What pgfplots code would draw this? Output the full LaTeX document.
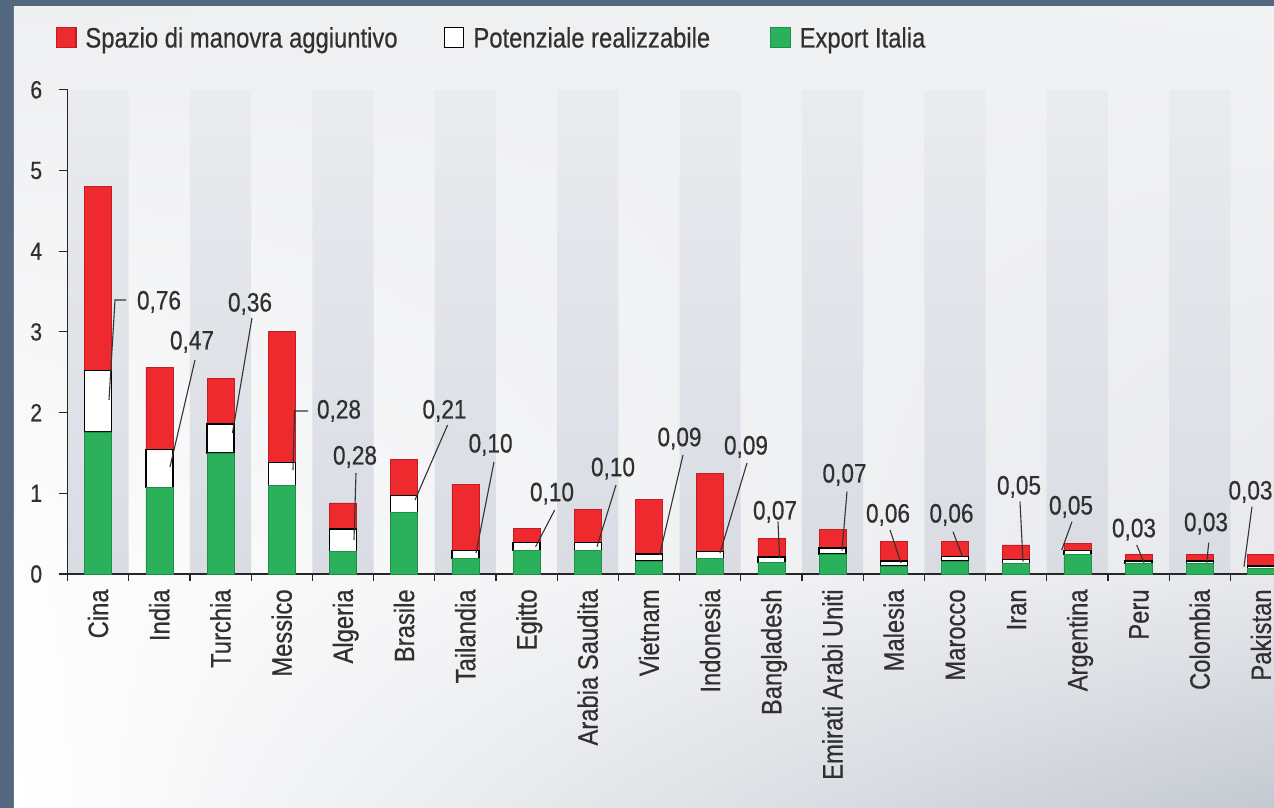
\documentclass[border=0pt]{standalone}
\usepackage{fontspec}
\setmainfont{Liberation Sans}[FakeStretch=0.85, FakeBold=0.5]
\usepackage{pgfplots}
\pgfplotsset{compat=1.18}
\usetikzlibrary{shadings}
\definecolor{frame}{HTML}{53677F}
\definecolor{gr}{HTML}{2BB15C}
\definecolor{grd}{HTML}{1E8E48}
\definecolor{rd}{HTML}{EE2A2E}
\definecolor{rdd}{HTML}{C01E23}
\definecolor{txt}{HTML}{303030}
\definecolor{bandtop}{HTML}{E9EBEF}
\definecolor{bandbot}{HTML}{D9DCE3}
\definecolor{bgul}{RGB}{238,239,241}
\definecolor{bgur}{RGB}{241,242,244}
\definecolor{bgml}{RGB}{253,253,253}
\definecolor{bgmr}{RGB}{232,233,237}
\definecolor{bgll}{RGB}{255,255,255}
\definecolor{bglr}{RGB}{196,201,209}
\begin{document}
\begin{tikzpicture}
\useasboundingbox (-33.75pt,-117pt) rectangle (603.25pt,287pt);
\clip (-33.75pt,-117pt) rectangle (603.25pt,287pt);
\fill[frame] (-33.75pt,-117pt) rectangle (603.25pt,287pt);
\shade[upper left=bgul, upper right=bgur, lower left=bgml, lower right=bgmr]
  (-26.75pt,-0.2pt) rectangle (603.25pt,283.5pt);
\shade[upper left=bgml, upper right=bgmr, lower left=bgll, lower right=bglr]
  (-26.75pt,-117pt) rectangle (603.25pt,0pt);
% background bands
\begin{axis}[
  anchor=south west, at={(0pt,0pt)},
  x=30.6pt, y=40.35pt,
  xmin=-0.5, xmax=19.5, ymin=0, ymax=6,
  hide axis, clip=false]
\addplot[const plot, draw=none, top color=bandtop, bottom color=bandbot]
  coordinates {(-0.5,6) (0.5,0) (1.5,6) (2.5,0) (3.5,6) (4.5,0) (5.5,6) (6.5,0)
  (7.5,6) (8.5,0) (9.5,6) (10.5,0) (11.5,6) (12.5,0) (13.5,6) (14.5,0) (15.5,6)
  (16.5,0) (17.5,6) (18.5,0) (19.5,0)} \closedcycle;
\end{axis}
% bars
\begin{axis}[
  anchor=south west, at={(0pt,0pt)},
  x=30.6pt, y=40.35pt,
  xmin=-0.5, xmax=19.5, ymin=0, ymax=6,
  enlargelimits=false,
  ybar stacked, bar width=13.5pt,
  axis lines=left, axis line style={-, draw=black!85, line width=0.6pt},
  tick align=outside,
  major tick length=4.5pt, minor tick length=3.5pt,
  tick style={draw=black!85, line width=0.6pt},
  major x tick style={draw=none},
  xtick={0,...,19},
  minor xtick={-0.5,0.5,...,19.5},
  xticklabels={Cina,India,Turchia,Messico,Algeria,Brasile,Tailandia,Egitto,Arabia Saudita,Vietnam,Indonesia,Bangladesh,Emirati Arabi Uniti,Malesia,Marocco,Iran,Argentina,Peru,Colombia,Pakistan},
  xticklabel style={rotate=90, anchor=east, inner sep=0pt, text height=10pt, text depth=0pt,
    font=\fontsize{14pt}{16pt}\selectfont, text=txt},
  xticklabel shift=3pt,
  ytick={0,...,6},
  yticklabel style={inner sep=0pt, font=\fontsize{12.4pt}{14pt}\selectfont, text=txt, xshift=-2pt},
  yticklabel shift=6pt,
  /pgf/number format/assume math mode=true,
  legend style={draw=none, fill=none, at={(-0.0094,1.108)}, anchor=west,
    inner sep=0pt, outer sep=0pt,
    nodes={inner sep=0pt, text height=10pt, text depth=0pt, text=txt,
      font=\fontsize{14pt}{16pt}\selectfont}},
  legend columns=-1, legend cell align=left, reverse legend,
  mylegend/.style={legend image code/.code={
     \draw[##1, line width=0.6pt] (0pt,-4.85pt) rectangle (9.7pt,4.85pt);
     \path (14.25pt,0pt);}},
  clip=false]
\addplot[fill=gr, draw=grd, line width=0.3pt, mylegend] coordinates {
 (0,1.76) (1,1.07) (2,1.50) (3,1.10) (4,0.28) (5,0.76) (6,0.19) (7,0.29) (8,0.29) (9,0.16)
 (10,0.19) (11,0.14) (12,0.25) (13,0.10) (14,0.16) (15,0.13) (16,0.24) (17,0.13) (18,0.13) (19,0.07)};
\addlegendentry{Export Italia}
\addplot[fill=white, draw=black, line width=0.7pt, mylegend] coordinates {
 (0,0.76) (1,0.47) (2,0.36) (3,0.28) (4,0.28) (5,0.21) (6,0.10) (7,0.10) (8,0.10) (9,0.09)
 (10,0.09) (11,0.07) (12,0.07) (13,0.06) (14,0.06) (15,0.05) (16,0.05) (17,0.03) (18,0.03) (19,0.03)};
\addlegendentry{Potenziale realizzabile\hspace*{30pt}}
\addplot[fill=rd, draw=rdd, line width=0.3pt, mylegend] coordinates {
 (0,2.28) (1,1.02) (2,0.56) (3,1.63) (4,0.32) (5,0.45) (6,0.82) (7,0.18) (8,0.41) (9,0.67)
 (10,0.97) (11,0.23) (12,0.23) (13,0.24) (14,0.18) (15,0.18) (16,0.09) (17,0.08) (18,0.08) (19,0.14)};
\addlegendentry{Spazio di manovra aggiuntivo\hspace*{23pt}}
\end{axis}
% annotations (pixel coordinates)
\begin{scope}[x=0.5pt, y=-0.5pt, shift={(-33.75pt,287pt)},
  ann/.style={draw=black!80, line width=0.55pt},
  lab/.style={inner sep=0pt, text height=9.5pt, text depth=0pt, anchor=center, text=txt,
    font=\fontsize{13.3pt}{15pt}\selectfont}]
\draw[ann] (109,400) -- (115,300) -- (126,300); \node[lab] at (159,300) {0,76};
\draw[ann] (170,467) -- (195,360); \node[lab] at (192,340) {0,47};
\draw[ann] (232.5,433) -- (252,318); \node[lab] at (250,302) {0,36};
\draw[ann] (293,470) -- (294.5,411) -- (308,411); \node[lab] at (339,409) {0,28};
\draw[ann] (354,540) -- (356,473); \node[lab] at (355,455) {0,28};
\draw[ann] (415,500) -- (447.6,425); \node[lab] at (444.5,409) {0,21};
\draw[ann] (476,553) -- (494,462); \node[lab] at (490.6,443) {0,10};
\draw[ann] (535.6,546.7) -- (554.7,510); \node[lab] at (552,491.7) {0,10};
\draw[ann] (597,546.7) -- (616,485); \node[lab] at (613,466.7) {0,10};
\draw[ann] (659.6,555) -- (683,455); \node[lab] at (679.5,436.7) {0,09};
\draw[ann] (720,553) -- (747,463); \node[lab] at (746,445) {0,09};
\draw[ann] (779.6,558) -- (778,521.7); \node[lab] at (775,510) {0,07};
\draw[ann] (842,550.7) -- (847,491.7); \node[lab] at (844.5,473) {0,07};
\draw[ann] (901,563) -- (890,530); \node[lab] at (888,513) {0,06};
\draw[ann] (962.5,556.7) -- (953,531.7); \node[lab] at (951.5,513) {0,06};
\draw[ann] (1023,561.7) -- (1020,501.7); \node[lab] at (1019,485) {0,05};
\draw[ann] (1061.7,550) -- (1072,521.7); \node[lab] at (1071,505) {0,05};
\draw[ann] (1144,562.7) -- (1136.7,545); \node[lab] at (1134,527.7) {0,03};
\draw[ann] (1206.7,562.7) -- (1208.7,542.7); \node[lab] at (1206,521.7) {0,03};
\draw[ann] (1244,566.7) -- (1252,506.7); \node[lab] at (1250.5,490) {0,03};
\end{scope}
\end{tikzpicture}
\end{document}
